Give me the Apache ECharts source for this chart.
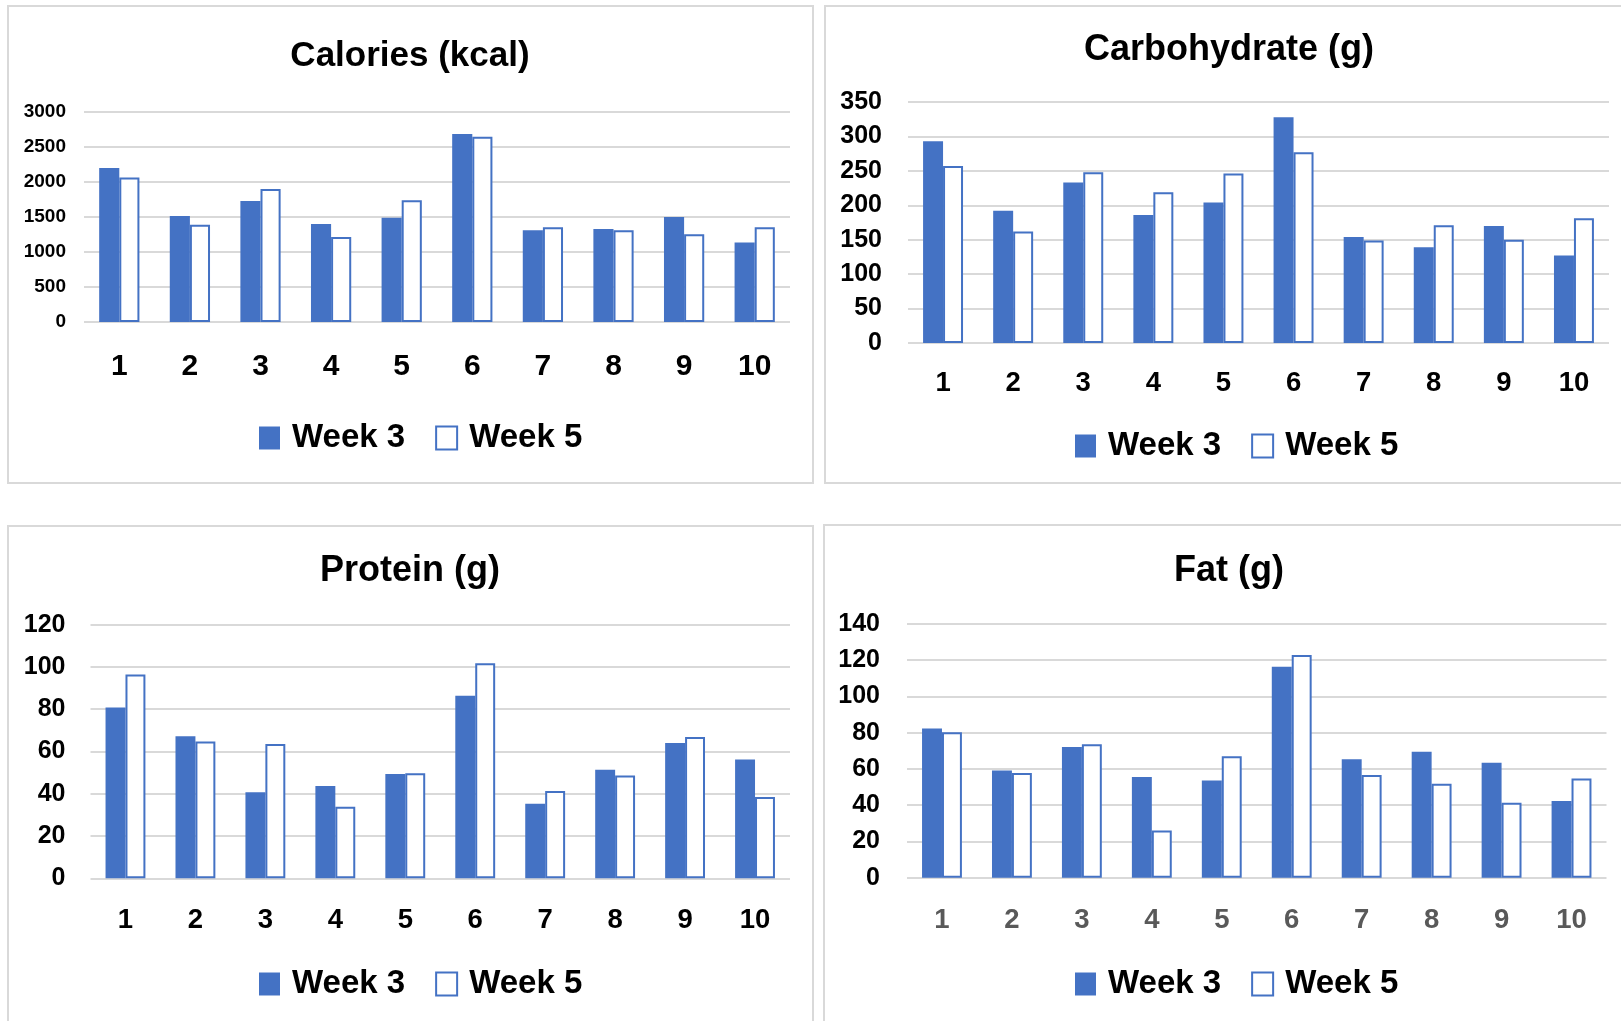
<!DOCTYPE html>
<html>
<head>
<meta charset="utf-8">
<script src="https://cdn.jsdelivr.net/npm/echarts@6/dist/echarts.min.js"></script>
<style>
html,body{margin:0;padding:0;background:#fff;}
#chart{width:1621px;height:1021px;}
</style>
</head>
<body>
<div id="chart"></div>
<script>
// ---- data ----
const categories = ['1','2','3','4','5','6','7','8','9','10'];
const seriesNames = ['Week 3','Week 5'];
const titles = ['Calories (kcal)','Carbohydrate (g)','Protein (g)','Fat (g)'];

const calWeek3 = [2200,1515,1730,1400,1490,2685,1310,1330,1500,1135];
const calWeek5 = [2065,1390,1900,1215,1740,2645,1355,1310,1255,1355];
const carbWeek3 = [293,192,233,186,204,328,154,139,170,127];
const carbWeek5 = [257,162,248,219,246,277,149,171,150,181];
const proteinWeek3 = [80.8,67.2,40.7,43.7,49.4,86.4,35.3,51.4,64,56.2];
const proteinWeek5 = [96.4,64.7,63.6,33.9,49.7,101.7,41.3,48.6,66.9,38.5];
const fatWeek3 = [82.4,59.2,72.1,55.6,53.7,116.4,65.3,69.5,63.5,42.3];
const fatWeek5 = [80.2,57.8,73.6,26.1,67,122.9,56.7,51.9,41.4,54.8];

const calTicks = [0,500,1000,1500,2000,2500,3000];
const carbTicks = [0,50,100,150,200,250,300,350];
const proteinTicks = [0,20,40,60,80,100,120];
const fatTicks = [0,20,40,60,80,100,120,140];

// ---- layout / style ----
const FONT = "'Liberation Sans', Arial, sans-serif";
const BLUE = '#4472C4';
const GRIDC = '#d9d9d9';

const panels = [
  {w3: calWeek3, w5: calWeek5, ticks: calTicks, grid:{left:84, top:112, width:706, height:210},
   yFont:19, yMargin:18, xFont:30, xMargin:30, xColor:'#000', tFont:35,
   title:{x:410, y:56}, legend:{left:259, cy:438}, box:{x:8,y:6,w:805,h:477}},
  {w3: carbWeek3, w5: carbWeek5, ticks: carbTicks, grid:{left:908, top:102, width:701, height:241},
   yFont:25, yMargin:26, xFont:27.5, xMargin:27, xColor:'#000', tFont:36,
   title:{x:1229, y:50}, legend:{left:1075, cy:446}, box:{x:825,y:6,w:810,h:477}},
  {w3: proteinWeek3, w5: proteinWeek5, ticks: proteinTicks, grid:{left:90.5, top:624.7, width:699.5, height:253.6},
   yFont:25, yMargin:25, xFont:27.5, xMargin:28, xColor:'#000', tFont:36,
   title:{x:410, y:571}, legend:{left:259, cy:984}, box:{x:8,y:526,w:805,h:510}},
  {w3: fatWeek3, w5: fatWeek5, ticks: fatTicks, grid:{left:907, top:624, width:699.5, height:253.7},
   yFont:25, yMargin:27, xFont:27.5, xMargin:28.5, xColor:'#595959', tFont:36,
   title:{x:1229, y:571}, legend:{left:1075, cy:984}, box:{x:824,y:525,w:810,h:510}}
];

const option = {
  backgroundColor:'#fff',
  animation:false,
  grid:[], xAxis:[], yAxis:[], series:[], legend:[], graphic:[]
};

panels.forEach((p, i) => {
  option.graphic.push({type:'rect', silent:true, z:-10,
    shape:{x:p.box.x, y:p.box.y, width:p.box.w, height:p.box.h},
    style:{fill:'#fff', stroke:'#d9d9d9', lineWidth:2}});
  option.graphic.push({type:'text', silent:true,
    x:p.title.x, y:p.title.y,
    style:{text:titles[i], fill:'#000', font:'bold ' + p.tFont + 'px ' + FONT, textAlign:'center', textVerticalAlign:'middle'}});
  option.grid.push(Object.assign({containLabel:false}, p.grid));
  const tk = p.ticks;
  option.xAxis.push({
    type:'category', gridIndex:i, data:categories,
    axisLine:{show:false}, axisTick:{show:false},
    axisLabel:{fontFamily:FONT, fontWeight:'bold', fontSize:p.xFont, lineHeight:p.xFont, color:p.xColor, margin:p.xMargin}
  });
  option.yAxis.push({
    type:'value', gridIndex:i, min:tk[0], max:tk[tk.length-1], interval:tk[1]-tk[0],
    axisLine:{show:false}, axisTick:{show:false},
    axisLabel:{fontFamily:FONT, fontWeight:'bold', fontSize:p.yFont, color:'#000', margin:p.yMargin,
      formatter:(v) => String(v)},
    splitLine:{lineStyle:{color:GRIDC, width:2}}
  });
  option.series.push({
    name:seriesNames[0], type:'bar', xAxisIndex:i, yAxisIndex:i, data:p.w3,
    barGap:'0%', barCategoryGap:'43%',
    itemStyle:{color:BLUE}
  });
  option.series.push({
    name:seriesNames[1], type:'bar', xAxisIndex:i, yAxisIndex:i, data:p.w5,
    barGap:'0%', barCategoryGap:'43%',
    itemStyle:{color:'#fff', borderColor:BLUE, borderWidth:2}
  });
  option.legend.push({
    left:p.legend.left - 5, top:p.legend.cy - 20 - 5, orient:'horizontal',
    itemWidth:21, itemHeight:23, itemGap:30,
    selectedMode:false,
    textStyle:{fontFamily:FONT, fontWeight:'bold', fontSize:33, lineHeight:40, color:'#000', padding:[0,0,0,7]},
    data:[
      {name:seriesNames[0], icon:'rect', itemStyle:{color:BLUE, borderWidth:0}},
      {name:seriesNames[1], icon:'rect', itemStyle:{color:'#fff', borderColor:BLUE, borderWidth:2}}
    ]
  });
});

const chart = echarts.init(document.getElementById('chart'), null, {renderer:'canvas'});
chart.setOption(option);
</script>
</body>
</html>
